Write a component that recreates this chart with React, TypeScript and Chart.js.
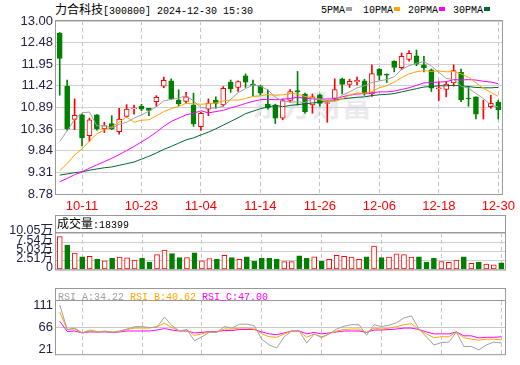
import React, { useEffect, useRef } from "react";
import { Chart, registerables } from "chart.js";
Chart.register(...registerables);

const dates = [
  "10-08","10-09","10-10","10-11","10-14","10-15","10-16","10-17","10-18","10-21",
  "10-22","10-23","10-24","10-25","10-28","10-29","10-30","10-31","11-01","11-04",
  "11-05","11-06","11-07","11-08","11-11","11-12","11-13","11-14","11-15","11-18",
  "11-19","11-20","11-21","11-22","11-25","11-26","11-27","11-28","11-29","12-02",
  "12-03","12-04","12-05","12-06","12-09","12-10","12-11","12-12","12-13","12-16",
  "12-17","12-18","12-19","12-20","12-23","12-24","12-25","12-26","12-27","12-30",
];
const xTickLabels = ["10-11","10-23","11-04","11-14","11-26","12-06","12-18","12-30"];

const opens = [
  12.70,11.41,10.60,10.71,10.20,10.71,10.37,10.50,10.30,10.67,
  10.86,10.92,10.87,11.03,11.41,11.54,11.07,11.04,10.95,10.42,
  10.85,11.07,10.95,11.51,11.38,11.66,11.46,11.42,10.97,10.95,
  10.63,11.06,11.30,11.22,10.95,11.20,10.99,11.11,11.59,11.45,
  11.52,11.54,11.22,11.83,11.70,12.02,11.86,12.06,12.15,11.93,
  11.81,11.35,11.33,11.49,11.75,11.12,11.15,10.85,10.91,11.02,
];
const highs = [
  12.72,11.56,11.10,10.73,10.63,10.72,10.53,10.69,10.87,10.96,
  10.95,10.97,10.87,11.18,11.63,11.59,11.32,11.26,11.24,10.77,
  11.10,11.15,11.40,11.56,11.54,11.71,11.56,11.43,11.32,10.97,
  11.10,11.33,11.77,11.24,11.22,11.22,11.06,11.59,11.61,11.58,
  11.63,11.58,11.93,11.84,11.71,12.03,12.22,12.28,12.29,12.14,
  11.83,11.52,11.52,11.93,11.83,11.40,11.15,11.07,11.19,11.07,
];
const lows = [
  11.19,10.34,10.35,9.95,10.06,10.34,10.28,10.35,10.24,10.65,
  10.73,10.81,10.69,10.92,11.37,11.08,10.93,11.00,10.43,10.33,
  10.69,10.87,10.92,11.26,11.28,11.38,11.16,11.19,10.85,10.50,
  10.59,11.02,10.95,10.75,10.75,10.92,10.53,11.06,11.22,11.38,
  11.44,11.19,11.16,11.56,11.50,11.76,11.81,12.02,11.91,11.76,
  11.28,11.06,11.15,11.41,11.03,10.92,10.61,10.61,10.87,10.61,
];
const closes = [
  12.09,10.37,10.70,10.15,10.59,10.37,10.45,10.37,10.61,10.85,
  10.88,10.85,10.82,11.14,11.55,11.10,10.98,11.15,10.49,10.75,
  11.00,10.99,11.36,11.35,11.52,11.51,11.43,11.24,10.88,10.63,
  11.06,11.28,11.27,10.79,11.15,10.99,11.01,11.33,11.45,11.53,
  11.55,11.24,11.72,11.67,11.68,11.87,12.14,12.21,11.95,11.86,
  11.36,11.37,11.46,11.79,11.08,11.10,10.73,10.86,10.99,10.84,
];
const PREV_CLOSE = 10.08;

const ma5 = [
  10.06,10.32,10.60,10.76,10.78,10.44,10.45,10.39,10.48,10.53,
  10.63,10.71,10.80,10.91,11.05,11.09,11.12,11.18,11.05,10.89,
  10.87,10.88,10.92,11.09,11.25,11.35,11.44,11.41,11.32,11.14,
  11.05,11.02,11.03,11.01,11.11,11.10,11.05,11.06,11.19,11.27,
  11.37,11.42,11.50,11.54,11.57,11.64,11.82,11.91,11.97,12.01,
  11.90,11.75,11.60,11.57,11.41,11.36,11.23,11.11,10.95,10.90,
];
const ma10 = [
  9.35,9.52,9.73,9.88,10.07,10.25,10.34,10.42,10.53,10.66,
  10.53,10.58,10.59,10.69,10.79,10.86,10.92,10.99,10.98,10.97,
  10.98,11.00,11.05,11.07,11.07,11.11,11.16,11.17,11.21,11.19,
  11.20,11.23,11.22,11.16,11.13,11.08,11.03,11.04,11.10,11.19,
  11.24,11.24,11.28,11.37,11.42,11.51,11.62,11.71,11.76,11.79,
  11.77,11.78,11.76,11.77,11.71,11.63,11.49,11.36,11.26,11.16,
];
const ma20 = [
  9.08,9.16,9.25,9.32,9.41,9.49,9.57,9.65,9.74,9.84,
  9.94,10.05,10.16,10.29,10.43,10.55,10.63,10.71,10.75,10.81,
  10.76,10.79,10.82,10.88,10.93,10.99,11.04,11.08,11.09,11.08,
  11.09,11.11,11.14,11.12,11.10,11.09,11.10,11.10,11.15,11.19,
  11.22,11.23,11.25,11.27,11.27,11.29,11.33,11.37,11.43,11.49,
  11.50,11.51,11.52,11.57,11.56,11.57,11.56,11.53,11.51,11.47,
];
const ma30 = [
  9.24,9.27,9.30,9.32,9.36,9.39,9.42,9.44,9.48,9.52,
  9.56,9.63,9.70,9.78,9.87,9.94,10.02,10.10,10.15,10.22,
  10.29,10.37,10.46,10.55,10.64,10.74,10.80,10.86,10.90,10.94,
  10.91,10.94,10.96,10.98,11.00,11.02,11.04,11.07,11.10,11.12,
  11.14,11.15,11.18,11.20,11.21,11.23,11.27,11.31,11.35,11.39,
  11.40,11.42,11.42,11.43,11.42,11.40,11.38,11.37,11.37,11.38,
];

const volumes = [
  90500,67500,45200,35200,36600,28700,23700,30900,34500,32300,
  25800,30900,20100,40900,53800,43800,33000,33000,45900,23700,
  30200,28700,38800,33000,28000,35200,22300,30900,30900,28700,
  21500,21500,37300,30900,35200,22300,28000,38800,36600,34500,
  28000,35200,64600,33000,34500,43100,40900,34500,35200,20100,
  30900,21500,19400,25800,35200,17200,20100,15100,12900,18399,
];

const rsiA = [
  113,62,65,55,59,56,59,56,59,63,
  68,68,66,67,88,70,59,62,39,47,
  56,56,68,65,73,73,70,42,30,24,
  47,59,59,34,53,45,53,63,69,72,
  72,50,72,68,71,76,86,90,63,47,
  30,35,36,57,27,27,20,30,36,34.22,
];
const rsiB = [
  98,62,63,55,61,58,58,57,58,62,
  65,65,65,68,75,66,59,61,50,53,
  57,57,63,63,65,65,63,53,47,46,
  53,59,59,46,53,47,53,59,62,63,
  63,56,65,63,65,68,72,74,62,53,
  45,47,47,57,45,42,40,42,42,40.62,
];
const rsiC = [
  79,58,59,55,57,57,57,56,57,59,
  59,59,59,61,64,61,59,59,55,56,
  58,58,60,60,62,62,62,57,53,51.5,
  55,59,59,53,56,53,55,57,59,59,
  59,56,61,61,62,63,65,65,62,57,
  53,53,53,57,49,49,44.5,46,46,47,
];

const priceTicks = [8.78, 9.31, 9.84, 10.36, 10.89, 11.42, 11.95, 12.48, 13.0];
const volTicks = [0, 25100, 50300, 75400, 100500];
const volTickLabels = ["0", "2.51万", "5.03万", "7.54万", "10.05万"];
const rsiTicks = [21, 66, 111];

const RED = "#ff0000";
const GREEN = "#008000";
const C_MA5 = "#a0a0a0";
const C_MA10 = "#ffa500";
const C_MA20 = "#ff00ff";
const C_MA30 = "#006633";
const LABEL_COLOR = "#222244";
const GRID = "#d0d0d0";
const FRAME = "#999999";
const AXIS_W = 56;
const RIGHT_PAD = 15;
const TICK_FONT = { family: "'Liberation Sans', Arial, sans-serif", size: 13 };
const VOL_FONT = { family: "'Liberation Sans', Arial, 'Noto Sans CJK SC', sans-serif", size: 12.5 };
const MONO = "'Liberation Mono', 'DejaVu Sans Mono', monospace";
const CJK = "'Noto Sans CJK SC', sans-serif";

const isLabelIdx = (i: number) => xTickLabels.includes(dates[i]);

function xScale(showLabels: boolean) {
  return {
    type: "category",
    offset: true,
    grid: {
      offset: false,
      drawTicks: false,
      color: (c: any) => (isLabelIdx(c.index) ? "#c4c4c4" : "rgba(0,0,0,0)"),
    },
    border: { display: false, dash: [4, 3] },
    ticks: {
      display: showLabels,
      autoSkip: false,
      maxRotation: 0,
      minRotation: 0,
      padding: 5,
      color: RED,
      font: TICK_FONT,
      callback: (_v: any, i: number) => (isLabelIdx(i) ? dates[i] : ""),
    },
    afterFit: (s: any) => {
      s.height = showLabels ? 18 : 0;
    },
  };
}

function yBase() {
  return {
    position: "left",
    afterFit: (s: any) => {
      s.width = AXIS_W;
    },
    border: { display: false },
  };
}

const mainFrame = {
  id: "mainFrame",
  afterDraw(chart: any) {
    const { ctx, chartArea: a } = chart;
    ctx.save();
    ctx.strokeStyle = FRAME;
    ctx.lineWidth = 1;
    ctx.strokeRect(a.left - 0.5, a.top - 0.5, a.right - a.left + 1, a.bottom - a.top + 1);
    ctx.restore();
  },
};

const panelFrame = {
  id: "panelFrame",
  afterDraw(chart: any) {
    const { ctx, chartArea: a } = chart;
    ctx.save();
    ctx.strokeStyle = FRAME;
    ctx.lineWidth = 1;
    ctx.strokeRect(a.left - 0.5, 0.5, a.right - a.left + 1, a.bottom);
    ctx.beginPath();
    ctx.moveTo(a.left - 0.5, a.top - 0.5);
    ctx.lineTo(a.right + 0.5, a.top - 0.5);
    ctx.stroke();
    ctx.restore();
  },
};

const watermark = {
  id: "watermark",
  beforeDatasetsDraw(chart: any) {
    const { ctx } = chart;
    ctx.save();
    ctx.font = `bold 30px ${CJK}`;
    ctx.fillStyle = "rgba(205,205,215,0.4)";
    ctx.textAlign = "center";
    ctx.textBaseline = "middle";
    ctx.fillText("东方财富", 312, 105);
    ctx.restore();
  },
};

export default function App() {
  const mainRef = useRef<HTMLCanvasElement | null>(null);
  const volRef = useRef<HTMLCanvasElement | null>(null);
  const rsiRef = useRef<HTMLCanvasElement | null>(null);

  useEffect(() => {
    const up = closes.map((c, i) => c >= opens[i]);
    const volUp = closes.map((c, i) => c >= (i === 0 ? PREV_CLOSE : closes[i - 1]));
    const line = (label: string, data: number[], color: string, order: number) => ({
      type: "line",
      label,
      data,
      borderColor: color,
      borderWidth: 1,
      pointRadius: 0,
      tension: 0,
      order,
    });

    const main = new Chart(mainRef.current as HTMLCanvasElement, {
      type: "bar",
      data: {
        labels: dates,
        datasets: [
          line("5PMA", ma5, C_MA5, 0),
          line("10PMA", ma10, C_MA10, 0),
          line("20PMA", ma20, C_MA20, 0),
          line("30PMA", ma30, C_MA30, 0),
          {
            type: "bar",
            label: "body",
            data: opens.map((o, i) => [Math.min(o, closes[i]), Math.max(o, closes[i])]),
            backgroundColor: up.map((u) => (u ? "#ffffff" : GREEN)),
            borderColor: up.map((u) => (u ? RED : GREEN)),
            borderWidth: 1,
            borderSkipped: false,
            barThickness: 5,
            grouped: false,
            order: 2,
          },
          {
            type: "bar",
            label: "wick",
            data: lows.map((l, i) => [l, highs[i]]),
            backgroundColor: up.map((u) => (u ? RED : GREEN)),
            borderWidth: 0,
            barThickness: 1,
            grouped: false,
            order: 3,
          },
        ] as any,
      },
      options: {
        responsive: false,
        animation: false,
        events: [],
        layout: { padding: { top: 21, right: RIGHT_PAD, left: 0, bottom: 0 } },
        plugins: { legend: { display: false }, tooltip: { enabled: false } },
        scales: {
          x: xScale(true) as any,
          y: {
            ...yBase(),
            min: 8.78,
            max: 13.0,
            afterBuildTicks: (s: any) => {
              s.ticks = priceTicks.map((v) => ({ value: v }));
            },
            grid: { color: GRID, drawTicks: false },
            ticks: {
              autoSkip: false,
              padding: 3,
              color: LABEL_COLOR,
              font: TICK_FONT,
              callback: (v: any) => Number(v).toFixed(2),
            },
          } as any,
        },
      },
      plugins: [watermark, mainFrame],
    });

    const vol = new Chart(volRef.current as HTMLCanvasElement, {
      type: "bar",
      data: {
        labels: dates,
        datasets: [
          {
            label: "成交量",
            data: volumes,
            backgroundColor: volUp.map((u) => (u ? "#ffffff" : GREEN)),
            borderColor: volUp.map((u) => (u ? RED : GREEN)),
            borderWidth: 1,
            borderSkipped: false,
            barThickness: 5,
          },
        ],
      },
      options: {
        responsive: false,
        animation: false,
        events: [],
        layout: { padding: { top: 18, right: RIGHT_PAD, left: 0, bottom: 1 } },
        plugins: { legend: { display: false }, tooltip: { enabled: false } },
        scales: {
          x: xScale(false) as any,
          y: {
            ...yBase(),
            min: 0,
            max: 100500,
            afterBuildTicks: (s: any) => {
              s.ticks = volTicks.map((v) => ({ value: v }));
            },
            grid: { color: GRID, drawTicks: false },
            ticks: {
              autoSkip: false,
              padding: 3,
              labelOffset: -2,
              color: LABEL_COLOR,
              font: VOL_FONT,
              callback: (_v: any, i: number) => volTickLabels[i],
            },
          } as any,
        },
      },
      plugins: [panelFrame],
    });

    const rsi = new Chart(rsiRef.current as HTMLCanvasElement, {
      type: "line",
      data: {
        labels: dates,
        datasets: [
          line("RSI_A", rsiA, C_MA5, 0),
          line("RSI_B", rsiB, C_MA10, 0),
          line("RSI_C", rsiC, C_MA20, 0),
        ] as any,
      },
      options: {
        responsive: false,
        animation: false,
        events: [],
        layout: { padding: { top: 13, right: RIGHT_PAD, left: 0, bottom: 1 } },
        plugins: { legend: { display: false }, tooltip: { enabled: false } },
        scales: {
          x: xScale(false) as any,
          y: {
            ...yBase(),
            min: 11,
            max: 121,
            afterBuildTicks: (s: any) => {
              s.ticks = rsiTicks.map((v) => ({ value: v }));
            },
            grid: {
              drawTicks: false,
              color: (c: any) => (c.tick && c.tick.value === 66 ? "#c8c8c8" : "rgba(0,0,0,0)"),
            },
            ticks: {
              autoSkip: false,
              padding: 3,
              color: LABEL_COLOR,
              font: TICK_FONT,
              callback: (v: any) => String(v),
            },
          } as any,
        },
      },
      plugins: [panelFrame],
    });

    return () => {
      main.destroy();
      vol.destroy();
      rsi.destroy();
    };
  }, []);

  const abs = (left: number, top: number): React.CSSProperties => ({
    position: "absolute",
    left,
    top,
    whiteSpace: "nowrap",
    lineHeight: "14px",
  });
  const mono: React.CSSProperties = { fontFamily: MONO, fontSize: 10 };
  const cjk: React.CSSProperties = { fontFamily: CJK, fontSize: 12 };
  const sq = (color: string): React.CSSProperties => ({
    display: "inline-block",
    width: 6,
    height: 4,
    background: color,
    marginLeft: 1,
    verticalAlign: "middle",
  });
  const legendItems: [string, string, number][] = [
    ["5PMA", C_MA5, 321],
    ["10PMA", C_MA10, 363],
    ["20PMA", C_MA20, 408],
    ["30PMA", C_MA30, 453],
  ];

  return (
    <div style={{ position: "absolute", left: 0, top: 0, width: 520, height: 365, background: "#fff", color: "#000", overflow: "hidden" }}>
      <div style={abs(55, 2)}>
        <span style={cjk}>力合科技</span>
        <span style={mono}>[300800] 2024-12-30 15:30</span>
      </div>
      {legendItems.map(([t, c, x]) => (
        <div key={t} style={abs(x, 1)}>
          <span style={mono}>{t}</span>
          <span style={sq(c)} />
        </div>
      ))}
      <canvas ref={mainRef} width={520} height={212} style={{ position: "absolute", left: 0, top: 0, display: "block" }} />
      <canvas ref={volRef} width={520} height={65} style={{ position: "absolute", left: 0, top: 215, display: "block" }} />
      <canvas ref={rsiRef} width={520} height={77} style={{ position: "absolute", left: 0, top: 288, display: "block" }} />
      <div style={abs(57, 216)}>
        <span style={cjk}>成交量</span>
        <span style={mono}>:18399</span>
      </div>
      <div style={abs(58, 288)}>
        <span style={{ ...mono, color: C_MA5 }}>RSI_A:34.22 </span>
        <span style={{ ...mono, color: C_MA10 }}>RSI_B:40.62 </span>
        <span style={{ ...mono, color: C_MA20 }}>RSI_C:47.00</span>
      </div>
    </div>
  );
}
